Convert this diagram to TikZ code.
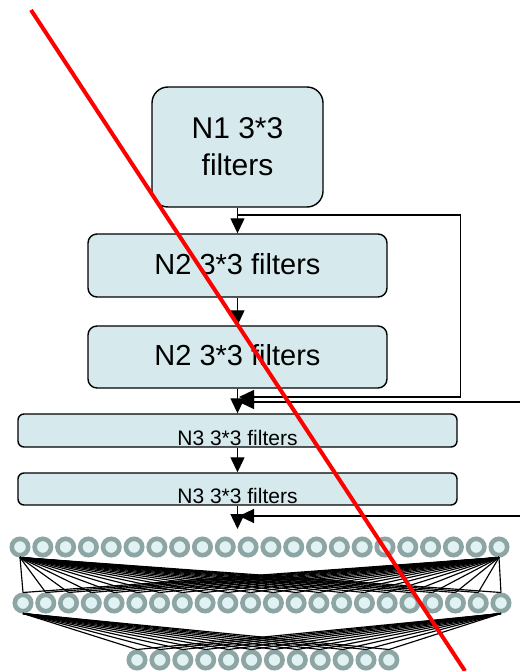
\documentclass[tikz,border=0pt]{standalone}
\usepackage{fontspec}
\setmainfont{Liberation Sans}
\usetikzlibrary{arrows.meta}
\definecolor{boxfill}{HTML}{D6EAEE}
\definecolor{ringgray}{HTML}{8DA5A5}
\definecolor{corefill}{HTML}{E1F2F2}
\tikzset{filterbox/.style={draw,fill=boxfill,line width=1.4pt},
  unit/.style={circle,draw=ringgray,fill=corefill,line width=4.6pt,minimum size=16.4pt,inner sep=0pt},
  arrow/.style={-{Triangle[length=15pt,width=14pt]},line width=1.3pt},
  wire/.style={line width=1.15pt}}

\begin{document}
\begin{tikzpicture}[x=1pt,y=-1pt]
  \path[use as bounding box] (0,0) rectangle (520,671);
  \node[filterbox,rounded corners=16pt,minimum width=171pt,minimum height=120pt,align=center,
    font=\fontsize{30}{37}\selectfont] (n1) at (237.5,147) {N1 3*3\\filters};
  \node[filterbox,rounded corners=9pt,minimum width=299pt,minimum height=63pt,text height=17pt,
    text depth=0pt,font=\fontsize{29}{35}\selectfont] (n2a) at (237.5,265.5) {N2 3*3 filters};
  \node[filterbox,rounded corners=9pt,minimum width=299pt,minimum height=62pt,text height=17pt,
    text depth=0pt,font=\fontsize{29}{35}\selectfont] (n2b) at (237.5,357) {N2 3*3 filters};
  \node[filterbox,rounded corners=6pt,minimum width=439pt,minimum height=33pt,text height=29pt,
    text depth=0pt,inner ysep=1pt,font=\fontsize{21}{25}\selectfont] (n3a) at (237.5,430.5) {N3 3*3 filters};
  \node[filterbox,rounded corners=6pt,minimum width=439pt,minimum height=32pt,text height=28pt,
    text depth=0pt,inner ysep=1pt,font=\fontsize{21}{25}\selectfont] (n3b) at (237.5,489) {N3 3*3 filters};

  \coordinate (fork) at (237.5,215);
  \coordinate (loopin) at (239,397);
  \coordinate (skipa) at (520,402);
  \coordinate (skipain) at (239,402);
  \coordinate (skipb) at (520,516);
  \coordinate (skipbin) at (239,516);
  \coordinate (outtip) at (237.5,529);

  \draw[arrow] (n1.south) -- (n2a.north);
  \draw[line width=1.3pt] (fork) -- (460.5,215) -- (460.5,397) -- (300,397);
  \draw[arrow] (300,397) -- (loopin);
  \draw[arrow] (n2a.south) -- (n2b.north);
  \draw[arrow] (n2b.south) -- (n3a.north);
  \draw[arrow] (skipa) -- (skipain);
  \draw[arrow] (n3a.south) -- (n3b.north);
  \draw[arrow] (n3b.south) -- (outtip);
  \draw[arrow] (skipb) -- (skipbin);

  \foreach \i in {1,...,22}{
    \pgfmathsetmacro{\xa}{20+22.81*(\i-1)}
    \pgfmathsetmacro{\xb}{23+22.76*(\i-1)}
    \node[unit] (a\i) at (\xa,547) {};
    \node[unit] (b\i) at (\xb,603) {};
  }
  \foreach \i in {1,...,12}{
    \pgfmathsetmacro{\xc}{137+22.9*(\i-1)}
    \node[unit] (c\i) at (\xc,660) {};
  }
  \foreach \j in {1,...,22}{
    \draw[wire] (a1.south) -- (b\j.north);
    \draw[wire] (a22.south) -- (b\j.north);
  }
  \foreach \j in {1,...,12}{
    \draw[wire] (b1.south) -- (c\j.north);
    \draw[wire] (b22.south) -- (c\j.north);
  }

  \coordinate (crossa) at (31,10);
  \coordinate (crossb) at (465,671);
  \draw[red,line width=4pt] (crossa) -- (crossb);
\end{tikzpicture}
\end{document}
